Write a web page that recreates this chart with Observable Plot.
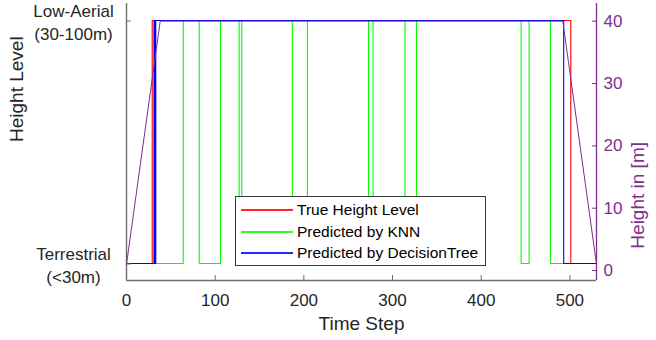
<!DOCTYPE html>
<html><head><meta charset="utf-8">
<script src="https://cdn.jsdelivr.net/npm/d3@7"></script>
<script src="https://cdn.jsdelivr.net/npm/@observablehq/plot@0.6"></script>
<style>
html,body{margin:0;padding:0;background:#fff;}
#chart{position:relative;width:656px;height:340px;font-family:"Liberation Sans",Arial,sans-serif;}
#chart svg{position:absolute;left:0;top:0;}
#legend{position:absolute;left:235px;top:196px;width:249px;height:68px;background:#fff;border:1px solid #3a3a3a;}
#legend .row{position:absolute;left:0;height:20px;width:100%;}
#legend .swatch{position:absolute;left:5px;width:52px;top:9px;height:2px;opacity:0.85;}
#legend .lbl{position:absolute;left:61px;top:0;line-height:20px;font-size:15.5px;color:#000;white-space:nowrap;}
</style></head><body><div id="chart"></div>
<script>
// ---- data ----
const levelTicks = [0, 1];
const levelTickLabels = ["Terrestrial\n(<30m)", "Low-Aerial\n(30-100m)"];
const timeTicks = [0, 100, 200, 300, 400, 500];
const heightTicks = [0, 10, 20, 30, 40];
const seriesNames = ["True Height Level", "Predicted by KNN", "Predicted by DecisionTree"];
const seriesColors = ["#ff0000", "#00ff00", "#0000ff"];

// change points (step-after)
const trueT = [0, 29, 501, 530];
const trueLevel = [0, 1, 0, 0];
const knnT = [0, 64, 82, 106, 127, 130, 187, 204, 273, 278, 314, 327, 445, 454, 478, 530];
const knnLevel = [0, 1, 0, 1, 0, 1, 0, 1, 0, 1, 0, 1, 0, 1, 0, 0];
const dtT = [0, 31, 32, 33, 493, 530];
const dtLevel = [0, 1, 0, 1, 0, 0];
const heightT = [0, 38, 492, 530];
const heightM = [1, 40, 40, 1];

const xDomain = [0, 530];
const levelDomain = [-0.07, 1.07];
const heightDomain = [-1.6, 42.84];

// ---- build ----
const rows = (ts, vs) => ts.map((t, i) => ({t, v: vs[i]}));
const axisColor = "#6e6e6e";
const textColor = "#262626";
const purple = "#7e2f8e";
const font = "Liberation Sans, Arial, sans-serif";
const W = 656, H = 340;
const margins = {marginLeft: 126, marginRight: 60, marginTop: 3, marginBottom: 60};

const p1 = Plot.plot({
  width: W, height: H, ...margins,
  style: {background: "transparent", fontFamily: font, overflow: "visible"},
  x: {domain: xDomain, axis: null},
  y: {domain: levelDomain, axis: null},
  marks: [
    Plot.ruleX([xDomain[0]], {stroke: axisColor, strokeWidth: 1.4}),
    Plot.ruleY([levelDomain[0]], {stroke: axisColor, strokeWidth: 1.4}),
    Plot.line(rows(trueT, trueLevel), {x: "t", y: "v", curve: "step-after", stroke: seriesColors[0], strokeWidth: 1.1}),
    Plot.line(rows(knnT, knnLevel), {x: "t", y: "v", curve: "step-after", stroke: seriesColors[1], strokeWidth: 1.1}),
    Plot.line(rows(dtT, dtLevel), {x: "t", y: "v", curve: "step-after", stroke: seriesColors[2], strokeWidth: 1.1}),
    Plot.axisX(timeTicks, {anchor: "bottom", tickSize: -5, tickPadding: 18.6, fontSize: 17, stroke: axisColor, fill: textColor, label: null}),
    Plot.axisY(levelTicks, {anchor: "left", tickSize: -5, tickPadding: 58, textAnchor: "middle", lineHeight: 1.38, dy: 0.5,
      fontSize: 17, stroke: axisColor, fill: textColor, label: null,
      tickFormat: d => levelTickLabels[levelTicks.indexOf(d)]}),
    Plot.text(["Height Level"], {frameAnchor: "left", rotate: -90, dx: -110, fontSize: 19, fill: textColor}),
    Plot.text(["Time Step"], {frameAnchor: "bottom", dy: 43, fontSize: 19, fill: textColor, lineAnchor: "middle"})
  ]
});

const p2 = Plot.plot({
  width: W, height: H, ...margins,
  style: {background: "transparent", fontFamily: font, overflow: "visible"},
  x: {domain: xDomain, axis: null},
  y: {domain: heightDomain, axis: null},
  marks: [
    Plot.ruleX([xDomain[1]], {stroke: purple, strokeWidth: 1.3}),
    Plot.line(rows(heightT, heightM), {x: "t", y: "v", stroke: purple, strokeWidth: 1}),
    Plot.axisY(heightTicks, {anchor: "right", tickSize: -5, tickPadding: 12, fontSize: 17, stroke: purple, fill: purple, label: null}),
    Plot.text(["Height in [m]"], {frameAnchor: "right", rotate: -90, dx: 41, fontSize: 19, fill: purple})
  ]
});

const chart = document.getElementById("chart");
chart.appendChild(p1);
chart.appendChild(p2);

const legend = document.createElement("div");
legend.id = "legend";
const rowTops = [3, 25, 46];
seriesNames.forEach((name, i) => {
  const row = document.createElement("div");
  row.className = "row";
  row.style.top = rowTops[i] + "px";
  const sw = document.createElement("div");
  sw.className = "swatch";
  sw.style.background = seriesColors[i];
  const lb = document.createElement("div");
  lb.className = "lbl";
  lb.textContent = name;
  row.appendChild(sw); row.appendChild(lb);
  legend.appendChild(row);
});
chart.appendChild(legend);
</script>
</body></html>
